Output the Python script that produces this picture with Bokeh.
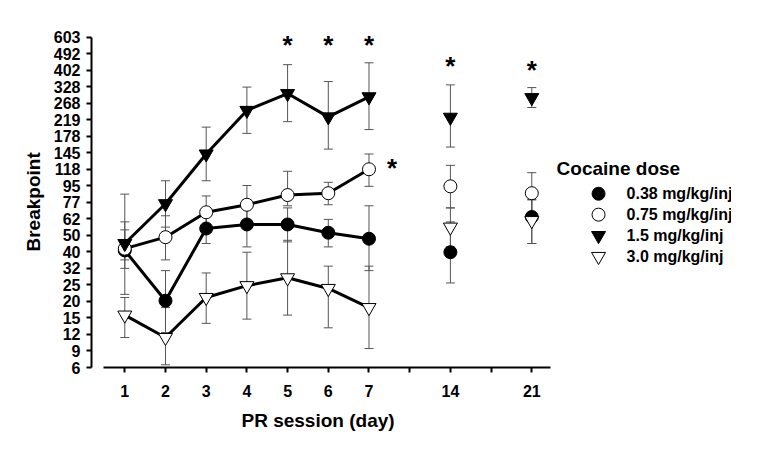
import numpy as np
from bokeh.plotting import figure
from bokeh.models import (ColumnDataSource, Whisker, TeeHead, FixedTicker, Range1d, Label, Title)
from bokeh.core.properties import value
from bokeh.embed import file_html
from bokeh.resources import INLINE

# ---------------- data ----------------
days = ["1", "2", "3", "4", "5", "6", "7", "14", "21"]
day_slot = [1, 2, 3, 4, 5, 6, 7, 9, 11]          # slot on the broken day axis
y_tick_labels = [6, 9, 12, 15, 20, 25, 32, 40, 50, 62, 77, 95, 118, 145,
                 178, 219, 268, 328, 402, 492, 603]

dose_labels = ["0.38 mg/kg/inj", "0.75 mg/kg/inj", "1.5 mg/kg/inj", "3.0 mg/kg/inj"]

bp_038 = [41, 20, 55, 58, 58, 52, 48, 40, 64]
lo_038 = [36, 12, 45, 43, 46, 43, 31, 26, 45]
hi_038 = [54, 31, 65, 80, 72, 62, 74, 60, 80]

bp_075 = [42, 49, 68, 75, 85, 87, 118, 95, 87]
lo_075 = [32, 36, 55, 58, 74, 75, 95, 72, 65]
hi_075 = [60, 65, 84, 96, 115, 100, 143, 124, 113]

bp_15 = [45, 76, 143, 246, 303, 227, 291, 226, 288]
lo_15 = [22, 56, 102, 185, 214, 152, 194, 156, 255]
hi_15 = [86, 102, 200, 328, 432, 351, 442, 337, 326]

bp_30 = [16, 11, 21, 25, 28, 24, 18, 56, 61]
lo_30 = [11, 6.5, 14, 15, 16, 13, 9, 43, 45]
hi_30 = [21, 18, 30, 40, 47, 33, 33, 72, 80]

# significance asterisks (day, breakpoint level)
sig_days = ["5", "6", "7", "14", "21"]
sig_level = [550, 550, 550, 425, 405]
sig075_day = ["7"]
sig075_level = [120]


# PR breakpoints follow 5*exp(0.2*n)-5: axis is linear in step n
def pr_step(v):
    return 5.0 * np.log((np.asarray(v, dtype=float) + 5.0) / 5.0)


slot_of = dict(zip(days, day_slot))

FONT = "Liberation Sans"

p = figure(frame_width=640, frame_height=349, output_backend="svg",
           toolbar_location=None,
           x_range=Range1d(0.182, 0.182 + 640 / 40.7), y_range=Range1d(4, 25.15),
           min_border_left=91, min_border_right=0, min_border_top=18,
           min_border_bottom=67)
p.outline_line_color = None
p.grid.visible = False
p.background_fill_color = "white"
p.border_fill_color = "white"

# axes
xt = list(range(1, 12))
p.xaxis.ticker = FixedTicker(ticks=xt)
p.xaxis.major_label_overrides = {t: "" for t in xt}
p.xaxis.major_label_overrides.update({s: d for d, s in zip(days, day_slot)})
p.xaxis.bounds = (0.477, 11.45)

yt = [int(round(float(pr_step(v)))) for v in y_tick_labels]
p.yaxis.ticker = FixedTicker(ticks=yt)
p.yaxis.major_label_overrides = {t: str(v) for t, v in zip(yt, y_tick_labels)}
p.yaxis.bounds = (yt[0], yt[-1])

for ax in (p.xaxis[0], p.yaxis[0]):
    ax.axis_line_width = 2
    ax.axis_line_color = "black"
    ax.major_tick_line_width = 2
    ax.major_tick_line_color = "black"
    ax.major_tick_in = 0
    ax.major_tick_out = 5
    ax.minor_tick_line_color = None
    ax.major_label_text_font = FONT
    ax.major_label_text_font_style = "bold"
    ax.major_label_text_font_size = "16px"
    ax.major_label_text_color = "black"

p.xaxis.major_label_standoff = 12
p.yaxis.major_label_standoff = 6

# axis titles, centred on the drawn axis spans
p.add_layout(Title(text="PR session (day)", align="left", offset=150,
                   text_font=FONT, text_font_style="bold", text_font_size="19px",
                   text_color="black", standoff=16), "below")
p.add_layout(Title(text="Breakpoint", align="left", offset=116,
                   text_font=FONT, text_font_style="bold", text_font_size="19px",
                   text_color="black", standoff=14), "left")

series = [
    (bp_038, lo_038, hi_038, "circle", "black", 13),
    (bp_075, lo_075, hi_075, "circle", "white", 13),
    (bp_15, lo_15, hi_15, "inverted_triangle", "black", 14),
    (bp_30, lo_30, hi_30, "inverted_triangle", "white", 14),
]

sources = []
for bp, lo, hi, mk, fill, sz in series:
    src = ColumnDataSource(dict(
        x=[slot_of[d] for d in days],
        y=pr_step(bp), lo=pr_step(lo), hi=pr_step(hi)))
    sources.append(src)
    w = Whisker(base="x", upper="hi", lower="lo", source=src, dimension="height",
                line_color="#555555", line_width=1,
                upper_head=TeeHead(size=9, line_color="#555555", line_width=1),
                lower_head=TeeHead(size=9, line_color="#555555", line_width=1))
    p.add_layout(w)

# connecting lines for consecutive days 1-7
for (bp, lo, hi, mk, fill, sz) in series:
    xs = [slot_of[d] for d in days[:7]]
    p.line(xs, pr_step(bp[:7]), line_color="black", line_width=3)

for src, (bp, lo, hi, mk, fill, sz) in zip(sources, series):
    p.scatter("x", "y", source=src, marker=mk, size=sz, fill_color=fill,
              line_color="black", line_width=1)

# asterisks
p.text([slot_of[d] for d in sig_days], pr_step(sig_level), text=["*"] * len(sig_days),
       text_font=value(FONT), text_font_style="bold", text_font_size="26px",
       text_align="center", text_baseline="middle", text_color="black")
p.text([slot_of[d] for d in sig075_day], pr_step(sig075_level), text=["*"],
       x_offset=23, text_font=value(FONT), text_font_style="bold",
       text_font_size="26px", text_align="center", text_baseline="middle",
       text_color="black")

# legend (drawn manually so marker sizes match the plot)
leg_x = 12.64
leg_top = 14.53
leg_step = 1.267
for k, (lab, (bp, lo, hi, mk, fill, sz)) in enumerate(zip(dose_labels, series)):
    yk = leg_top - k * leg_step
    p.scatter([leg_x], [yk], marker=mk, size=sz, fill_color=fill,
              line_color="black", line_width=1)
    p.text([leg_x], [yk], text=[lab], x_offset=28, text_font=value(FONT),
           text_font_style="bold", text_font_size="16px", text_align="left",
           text_baseline="middle", text_color="black")

p.add_layout(Label(x=11.61, y=16.06, text="Cocaine dose", text_font=FONT,
                   text_font_style="bold", text_font_size="19px",
                   text_align="left", text_baseline="middle", text_color="black"))

open("out.html", "w").write(file_html(p, INLINE))
